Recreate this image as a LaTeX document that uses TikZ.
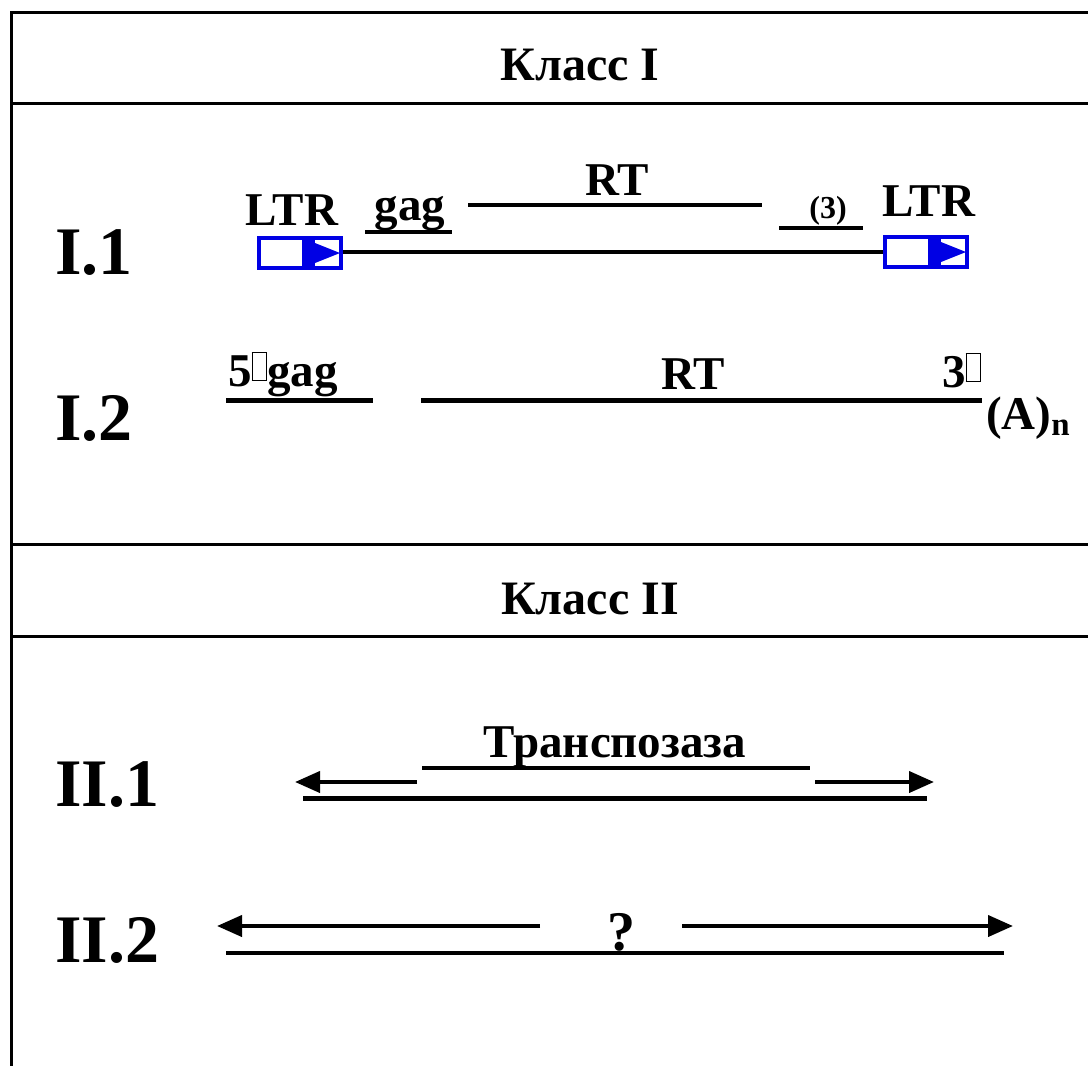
\documentclass[tikz,border=0pt]{standalone}
\usepackage{fontspec}
\setmainfont{Liberation Serif}
\usetikzlibrary{arrows.meta}

\definecolor{ltrblue}{RGB}{0,0,228}

% empty glyph box standing for a missing prime sign
\newcommand{\glyphbox}{\raisebox{6pt}{\fboxsep=0pt\fboxrule=1.3pt\fbox{\rule{0pt}{27pt}\rule{13pt}{0pt}}}}

\begin{document}
\begin{tikzpicture}[x=1pt,y=-1pt,
  frame/.style={line width=3pt,line cap=rect},
  title/.style={font=\bfseries\fontsize{48}{52}\selectfont,anchor=base,inner sep=0pt},
  rowlabel/.style={font=\bfseries\fontsize{68}{72}\selectfont,anchor=base west,inner sep=0pt},
  gene/.style={font=\bfseries\fontsize{47}{50}\selectfont,anchor=base,inner sep=0pt},
  small/.style={font=\bfseries\fontsize{32}{34}\selectfont,anchor=base,inner sep=0pt},
  seg/.style={line width=4pt},
  thickseg/.style={line width=5pt},
  arr/.style={line width=4pt,-{Triangle[length=25pt,width=21pt]}},
  ltrbox/.pic={
    \fill[ltrblue] (0,0) rectangle (86,34);
    \fill[white] (4,4) rectangle (45,30);
    \fill[white] (58,4) rectangle (82,30);
    \fill[ltrblue] (58,7) -- (83,17) -- (58,27) -- cycle;
  }]

\useasboundingbox (0,0) rectangle (1088,1066);
\fill[white] (0,0) rectangle (1088,1066);

% table frame
\coordinate (fTL) at (11,12);
\coordinate (fBL) at (11,1066);
\coordinate (fTR) at (1088,12);
\draw[frame] (fBL) -- (fTL) -- (fTR);
\foreach \yy/\nm in {103/a,544/b,636/c}{
  \coordinate (h\nm L) at (11,\yy);
  \coordinate (h\nm R) at (1088,\yy);
  \draw[frame] (h\nm L) -- (h\nm R);
}

% section headings
\node[title] (cls1) at (580,80) {Класс I};
\node[title] (cls2) at (590,614) {Класс II};

% row labels
\node[rowlabel] (lab11) at (55,274) {I.1};
\node[rowlabel] (lab12) at (55,440) {I.2};
\node[rowlabel] (lab21) at (55,806) {II.1};
\node[rowlabel] (lab22) at (55,962) {II.2};

% ---- I.1: LTR retrotransposon ----
\pic at (257,236) {ltrbox};
\pic at (883,235) {ltrbox};
\coordinate (ltrLe) at (343,252);
\coordinate (ltrRw) at (883,252);
\draw[seg] (ltrLe) -- (ltrRw);

\node[gene] (ltrL) at (292,225) {LTR};
\node[gene] (ltrR) at (929,216) {LTR};

\node[gene] (gag1) at (410,220) {gag};
\coordinate (gag1a) at (365,232);
\coordinate (gag1b) at (452,232);
\draw[line width=3.5pt] (gag1a) -- (gag1b);

\node[gene] (rt1) at (617,195) {RT};
\coordinate (rt1a) at (468,205);
\coordinate (rt1b) at (762,205);
\draw[line width=3.5pt] (rt1a) -- (rt1b);

\node[small] (p3) at (828,218) {(3)};
\coordinate (p3a) at (779,228);
\coordinate (p3b) at (863,228);
\draw[line width=3.5pt] (p3a) -- (p3b);

% ---- I.2: non-LTR retrotransposon ----
\node[gene,anchor=base west] (gag2) at (228,386) {5\glyphbox gag};
\coordinate (g2a) at (226,400);
\coordinate (g2b) at (373,400);
\draw[thickseg] (g2a) -- (g2b);

\node[gene] (rt2) at (693,389) {RT};
\coordinate (r2a) at (421,400);
\coordinate (r2b) at (982,400);
\draw[thickseg] (r2a) -- (r2b);

\node[gene,anchor=base west] (end3) at (942,387) {3\glyphbox};
\node[gene,anchor=base west] (polyA) at (986,429) {(A)$_{\mathbf{n}}$};

% ---- II.1: transposon with transposase ----
\node[gene] (tpase) at (615,757) {Транспозаза};
\coordinate (tpa) at (422,768);
\coordinate (tpb) at (810,768);
\draw[seg] (tpa) -- (tpb);

\coordinate (ir1s) at (417,782);
\coordinate (ir1e) at (295,782);
\draw[arr] (ir1s) -- (ir1e);
\coordinate (ir2s) at (815,782);
\coordinate (ir2e) at (934,782);
\draw[arr] (ir2s) -- (ir2e);

\coordinate (d1a) at (303,798);
\coordinate (d1b) at (927,798);
\draw[thickseg] (d1a) -- (d1b);

% ---- II.2: element of unknown coding capacity ----
\node[gene,font=\bfseries\fontsize{56}{60}\selectfont] (qm) at (621,950) {?};
\coordinate (ir3s) at (540,926);
\coordinate (ir3e) at (217,926);
\draw[arr] (ir3s) -- (ir3e);
\coordinate (ir4s) at (682,926);
\coordinate (ir4e) at (1013,926);
\draw[arr] (ir4s) -- (ir4e);

\coordinate (d2a) at (226,953);
\coordinate (d2b) at (1004,953);
\draw[seg] (d2a) -- (d2b);

\end{tikzpicture}
\end{document}
